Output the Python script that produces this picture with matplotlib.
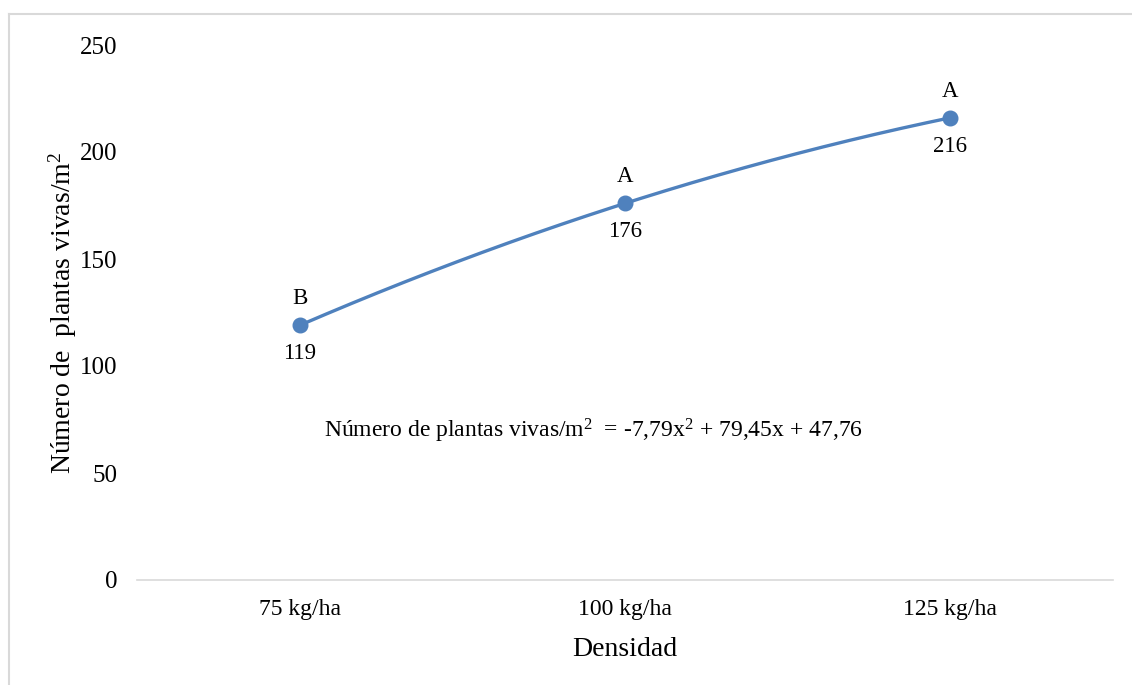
import numpy as np
import matplotlib.pyplot as plt
from matplotlib.lines import Line2D

# data
densidades = ['75 kg/ha', '100 kg/ha', '125 kg/ha']
plantas = [119, 176, 216]
letras = ['B', 'A', 'A']
ecuacion = 'Número de plantas vivas/m$^2$  = -7,79x$^2$ + 79,45x + 47,76'

plt.rcParams['font.family'] = ['Liberation Serif', 'DejaVu Serif']
plt.rcParams['mathtext.fontset'] = 'custom'
plt.rcParams['mathtext.rm'] = 'Liberation Serif'
plt.rcParams['mathtext.default'] = 'regular'
azul = '#4F81BD'

fig = plt.figure(figsize=(11.32, 6.85), dpi=100)
ax = fig.add_axes([137 / 1132, 105 / 685, 976 / 1132, 535 / 685])

x = np.arange(len(densidades))
# smoothed line through the points
coef = np.polyfit(x, plantas, 2)
xs = np.linspace(x[0], x[-1], 200)
ax.plot(xs, np.polyval(coef, xs), color=azul, lw=2.4, zorder=2)
ax.plot(x, plantas, 'o', color=azul, ms=10.5, zorder=3)

for xi, yi, letra in zip(x, plantas, letras):
    ax.annotate(letra, (xi, yi), xytext=(0, 19), textcoords='offset points',
                ha='center', va='center', fontsize=16.5)
    ax.annotate(str(yi), (xi, yi), xytext=(0, -20.5), textcoords='offset points',
                ha='center', va='center', fontsize=16.5)

ax.text(0.903, 69.6, ecuacion, ha='center', va='center', fontsize=17)

ax.set_xlim(-0.5, 2.5)
ax.set_ylim(0, 250)
ax.set_xticks(x)
ax.set_xticklabels(densidades, fontsize=17)
ax.set_yticks(range(0, 251, 50))
ax.tick_params(axis='y', length=0, labelsize=18, pad=14)
ax.tick_params(axis='x', length=0, pad=14)
for s in ['top', 'right', 'left']:
    ax.spines[s].set_visible(False)
ax.spines['bottom'].set_color('#D9D9D9')
ax.spines['bottom'].set_linewidth(1.2)

ax.set_xlabel('Densidad', fontsize=20, labelpad=12)
ax.set_ylabel('Número de  plantas vivas/m$^2$', fontsize=20, labelpad=1)

# outer frame (left and top only visible in the picture)
fig.add_artist(Line2D([8.5 / 1132, 8.5 / 1132], [0, 671 / 685], transform=fig.transFigure,
                      color='#D9D9D9', lw=1.5))
fig.add_artist(Line2D([8.5 / 1132, 1], [671 / 685, 671 / 685], transform=fig.transFigure,
                      color='#D9D9D9', lw=1.5))

fig.savefig('out.png', dpi=100)
